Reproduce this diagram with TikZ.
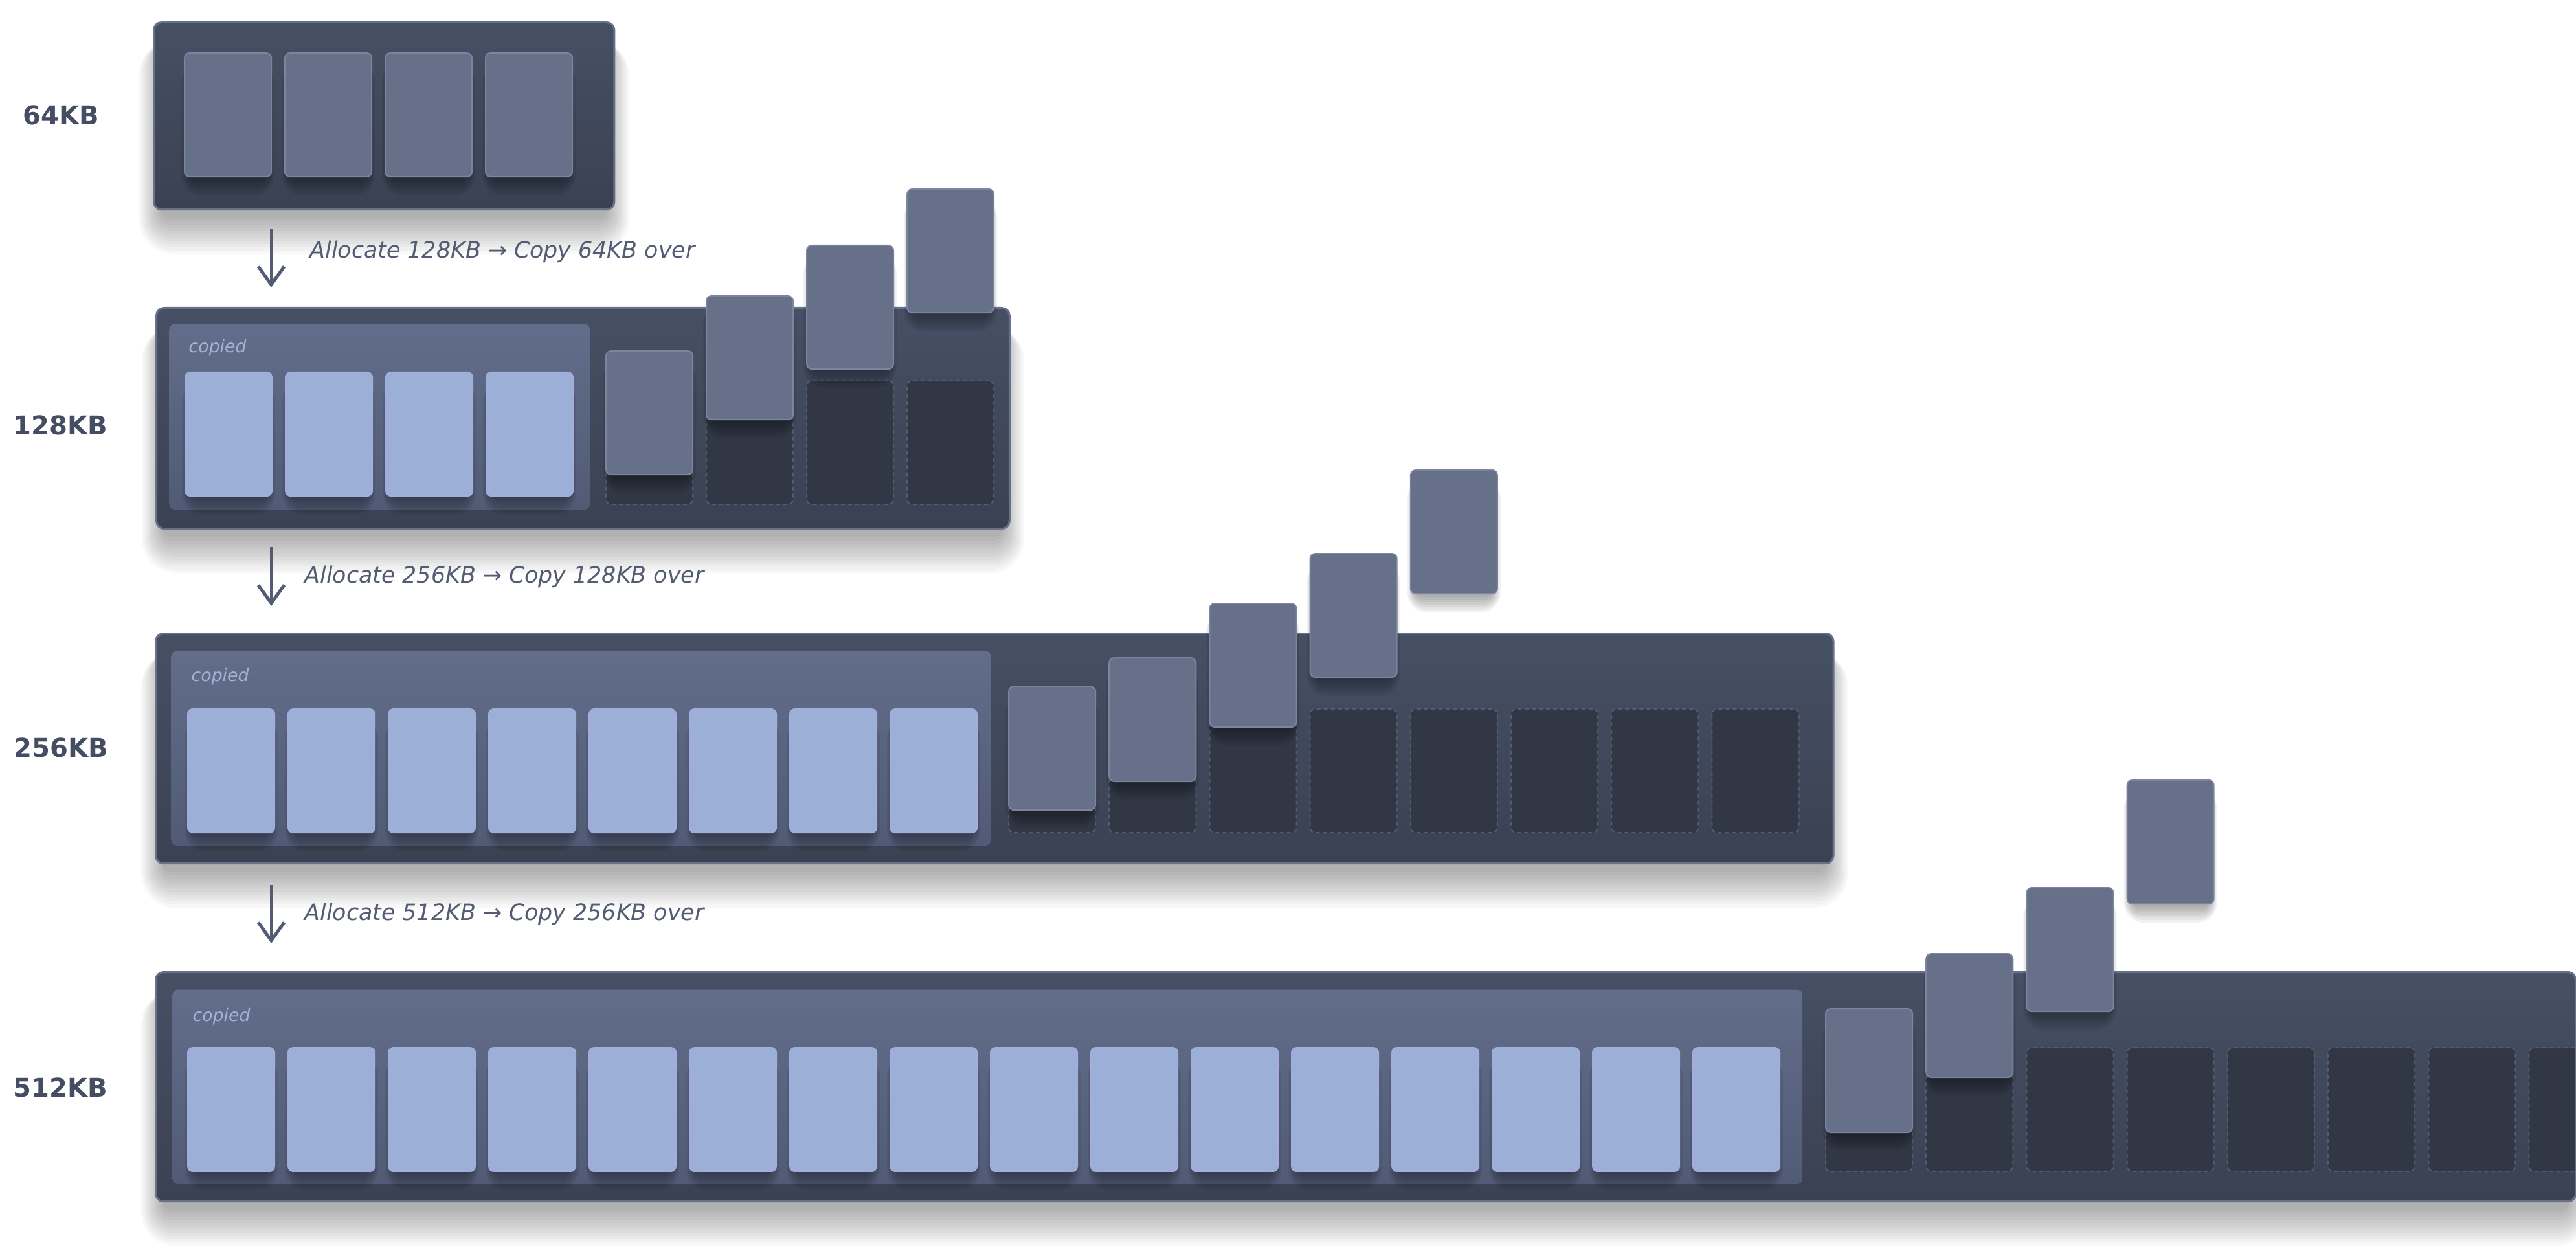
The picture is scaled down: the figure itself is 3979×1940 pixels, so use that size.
\documentclass[tikz,border=0pt]{standalone}
\usepackage{fontspec}
\setmainfont{DejaVu Sans}
\usetikzlibrary{positioning, calc, arrows.meta}
\pgfdeclarelayer{boxshade}
\pgfdeclarelayer{blkshade}
\pgfdeclarelayer{blks}
\pgfsetlayers{boxshade,main,blkshade,blks}
\definecolor{boxtop}{HTML}{465064}
\definecolor{boxbot}{HTML}{3A4152}
\definecolor{boxline}{HTML}{697089}
\definecolor{blkfill}{HTML}{667089}
\definecolor{blkline}{HTML}{7C84A0}
\definecolor{cpfill}{HTML}{9BAFD7}
\definecolor{cpline}{HTML}{A6ACDC}
\definecolor{paneltop}{HTML}{616D8A}
\definecolor{panelbot}{HTML}{515B76}
\definecolor{slotfill}{HTML}{313745}
\definecolor{slotline}{HTML}{545C71}
\definecolor{labelcol}{HTML}{454D63}
\definecolor{notecol}{HTML}{545C73}
\definecolor{tagcol}{HTML}{A6B2D4}

\begin{document}
\begin{tikzpicture}[x=0.01cm, y=-0.01cm,
membox/.style 2 args={draw=boxline, line width=0.03cm, rounded corners=0.12cm, top color=boxtop, bottom color=boxbot, anchor=north west, inner sep=0, minimum width=#1, minimum height=#2},
copypanel/.style 2 args={top color=paneltop, bottom color=panelbot, rounded corners=0.08cm, anchor=north west, inner sep=0, minimum width=#1, minimum height=#2},
memblk/.style={fill=blkfill, draw=blkline, line width=0.02cm, rounded corners=0.08cm, anchor=north west, inner sep=0, minimum width=1.34cm, minimum height=1.91cm},
cpblk/.style={memblk, fill=cpfill, draw=cpline},
slot/.style={fill=slotfill, draw=slotline, line width=0.02cm, dash pattern=on 0.06cm off 0.05cm, rounded corners=0.08cm, anchor=north west, inner sep=0, minimum width=1.34cm, minimum height=1.91cm},
boxshadow/.style={fill=black, opacity=0.027},
blkshadow/.style={fill=black, opacity=0.05},
sizelabel/.style={font=\bfseries\fontsize{11.4}{13}\selectfont, text=labelcol, inner sep=0},
note/.style={font=\itshape\fontsize{9.9}{12}\selectfont, text=notecol, inner sep=0, anchor=west},
tag/.style={font=\itshape\fontsize{7.6}{9}\selectfont, text=tagcol, inner sep=0, anchor=base west},
growarrow/.style={draw=notecol, line width=0.05cm, -{Straight Barb[length=0.28cm, width=0.4cm, line width=0.05cm]}}]

\begin{pgfonlayer}{boxshade}
\fill[white] (0,0) rectangle (3979,1940);
\end{pgfonlayer}
\useasboundingbox (0,0) rectangle (3979,1940);

% Sizes

\node[sizelabel] (l64) at (94,178) {64KB};
\node[sizelabel] (l128) at (93,657) {128KB};
\node[sizelabel] (l256) at (94,1155) {256KB};
\node[sizelabel] (l512) at (93,1680) {512KB};

% 64KB buffer

\node[membox={7.11cm}{2.89cm}] (m64) at (236,33) {};
\begin{pgfonlayer}{blks}
\foreach \i in {0,...,3} \node[memblk] (m64b\i) at ({284+155*\i},81) {};
\end{pgfonlayer}

% 128KB buffer

\node[membox={13.17cm}{3.41cm}] (m128) at (240,474) {};
\node[copypanel={6.49cm}{2.86cm}] (p128) at (261,500) {};
\node[tag] (t128) at ($(p128.north west)+(30,45)$) {copied};
\foreach \i in {0,...,3} \node[slot] (m128s\i) at ({935+155*\i},587) {};
\begin{pgfonlayer}{blks}
\foreach \i in {0,...,3} \node[cpblk] (m128c\i) at ({285+155*\i},574) {};
\foreach \i/\y in {0/541,1/456,2/378,3/291} \node[memblk] (m128n\i) at ({935+155*\i},\y) {};
\end{pgfonlayer}

% 256KB buffer

\node[membox={25.90cm}{3.55cm}] (m256) at (239,977) {};
\node[copypanel={12.65cm}{3.00cm}] (p256) at (264,1005) {};
\node[tag] (t256) at ($(p256.north west)+(31,47)$) {copied};
\foreach \i in {0,...,7} \node[slot] (m256s\i) at ({1557+155.2*\i},1094) {};
\begin{pgfonlayer}{blks}
\foreach \i in {0,...,7} \node[cpblk] (m256c\i) at ({289+155*\i},1094) {};
\foreach \i/\y in {0/1059,1/1015,2/931,3/854,4/725} \node[memblk] (m256n\i) at ({1557+155.2*\i},\y) {};
\end{pgfonlayer}

% 512KB buffer

\node[membox={37.36cm}{3.54cm}] (m512) at (239,1500) {};
\node[copypanel={25.16cm}{3.00cm}] (p512) at (266,1528) {};
\node[tag] (t512) at ($(p512.north west)+(31,49)$) {copied};
\begin{scope}
\clip (m512.north west) rectangle ($(m512.south east)+(-3,0)$);
\foreach \i in {0,...,7} \node[slot] (m512s\i) at ({2819+155.2*\i},1617) {};
\end{scope}
\begin{pgfonlayer}{blks}
\foreach \i in {0,...,15} \node[cpblk] (m512c\i) at ({289+155*\i},1617) {};
\foreach \i/\y in {0/1557,1/1472,2/1370,3/1204} \node[memblk] (m512n\i) at ({2819+155.2*\i},\y) {};
\end{pgfonlayer}

% Shadows

\begin{pgfonlayer}{boxshade}
\foreach \n in {m64,m128,m256,m512}
  \foreach \k in {0,...,11}
    \fill[boxshadow, rounded corners={(4+\k)*1pt}] ($(\n.north west)+(12-3*\k,30)$) rectangle ($(\n.south east)+(3*\k-12,12+5*\k)$);
\end{pgfonlayer}
\begin{pgfonlayer}{blkshade}
\foreach \r/\c in {m64b/3,m128c/3,m128n/3,m256c/7,m256n/4,m512c/15,m512n/3}
  \foreach \i in {0,...,\c}
    \foreach \k in {0,...,6}
      \fill[blkshadow, rounded corners={(3+\k)*1pt}] ($(\r\i.north west)+(8-2*\k,14)$) rectangle ($(\r\i.south east)+(2*\k-8,4+4*\k)$);
\end{pgfonlayer}

% Growth steps

\coordinate (g1a) at (419,353); \coordinate (g1b) at (419,444);
\coordinate (g2a) at (419,845); \coordinate (g2b) at (419,936);
\coordinate (g3a) at (419,1367); \coordinate (g3b) at (419,1457);
\draw[growarrow] (g1a) -- (g1b);
\draw[growarrow] (g2a) -- (g2b);
\draw[growarrow] (g3a) -- (g3b);
\node[note, right=0.59cm of $(g1a)!0.4!(g1b)$] (n1) {Allocate 128KB → Copy 64KB over};
\node[note, right=0.51cm of $(g2a)!0.5!(g2b)$] (n2) {Allocate 256KB → Copy 128KB over};
\node[note, right=0.51cm of $(g3a)!0.5!(g3b)$] (n3) {Allocate 512KB → Copy 256KB over};

\end{tikzpicture}
\end{document}
